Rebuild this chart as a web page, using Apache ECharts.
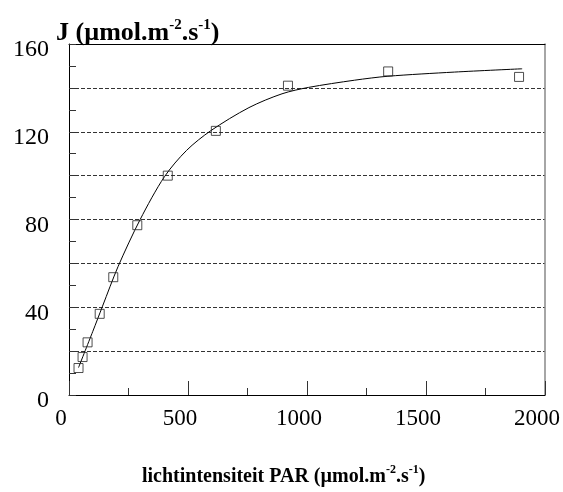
<!DOCTYPE html>
<html>
<head>
<meta charset="utf-8">
<script src="https://cdn.jsdelivr.net/npm/echarts@6/dist/echarts.min.js"></script>
<style>
  html, body { margin: 0; padding: 0; background: #fff; }
  #chart { width: 563px; height: 492px; }
</style>
</head>
<body>
<div id="chart"></div>
<script>
// Measured electron transport rate J against light intensity (PAR)
const parMeasured = [40, 57, 78, 129, 186, 287, 415, 617, 920, 1341, 1891];
const jMeasured = [12.3, 17.3, 24, 37, 53.7, 77.4, 100, 120.4, 141, 147.5, 145];

// Fitted light-response curve, sampled along its length
const parFit = [40, 100, 141, 206, 299, 401, 494, 596, 756, 895, 1006, 1200, 1340, 1619, 1904];
const jFit = [12.5, 29, 40.5, 58.5, 80, 99.5, 111.5, 120.5, 131, 137.3, 140.2, 143.5, 145.3, 147.2, 148.7];

// Axis ranges and tick steps
const xTicks = [0, 500, 1000, 1500, 2000];
const yLabelTicks = [0, 40, 80, 120, 160];

const FONT = '"Liberation Serif", "Times New Roman", serif';

const chart = echarts.init(document.getElementById('chart'), null, { renderer: 'canvas' });

const measured = parMeasured.map((x, i) => [x, jMeasured[i]]);
const fitted = parFit.map((x, i) => [x, jFit[i]]);

chart.setOption({
  animation: false,
  backgroundColor: '#ffffff',
  grid: { left: 69, right: 15, top: 44, bottom: 97 },
  title: [
    {
      text: '{b|J (µmol.m}{s|-2}{b|.s}{s|-1}{b|)}',
      left: 51,
      top: 13,
      textStyle: {
        rich: {
          b: { fontFamily: FONT, fontWeight: 'bold', fontSize: 26, color: '#000', lineHeight: 30 },
          s: { fontFamily: FONT, fontWeight: 'bold', fontSize: 15, color: '#000', verticalAlign: 'top', lineHeight: 16 }
        }
      }
    },
    {
      text: '{b|lichtintensiteit PAR (µmol.m}{s|-2}{b|.s}{s|-1}{b|)}',
      left: 137,
      top: 459,
      textStyle: {
        rich: {
          b: { fontFamily: FONT, fontWeight: 'bold', fontSize: 20, color: '#000', lineHeight: 26 },
          s: { fontFamily: FONT, fontWeight: 'bold', fontSize: 12, color: '#000', verticalAlign: 'top', lineHeight: 13 }
        }
      }
    }
  ],
  xAxis: [
    {
      type: 'value',
      min: xTicks[0],
      max: xTicks[xTicks.length - 1],
      interval: xTicks[1] - xTicks[0],
      axisLine: { show: true, onZero: false, lineStyle: { color: '#000', width: 1 } },
      axisTick: { show: true, inside: true, length: 14, lineStyle: { color: '#333', width: 1 } },
      minorTick: { show: true, splitNumber: 2, length: 7, lineStyle: { color: '#333', width: 1 } },
      splitLine: { show: false },
      axisLabel: {
        fontFamily: FONT, fontSize: 23, color: '#000', margin: 12,
        padding: [0, 16, 0, 0],
        formatter: v => String(v)
      }
    },
    {
      type: 'value',
      position: 'top',
      min: xTicks[0],
      max: xTicks[xTicks.length - 1],
      axisLine: { show: true, onZero: false, lineStyle: { color: '#000', width: 1 } },
      axisTick: { show: false },
      axisLabel: { show: false },
      splitLine: { show: false }
    }
  ],
  yAxis: [
    {
      type: 'value',
      min: yLabelTicks[0],
      max: yLabelTicks[yLabelTicks.length - 1],
      interval: 20,
      axisLine: { show: true, onZero: false, lineStyle: { color: '#000', width: 1 } },
      axisTick: { show: true, inside: true, length: 7, lineStyle: { color: '#333', width: 1 } },
      minorTick: { show: true, splitNumber: 2, length: 7, lineStyle: { color: '#333', width: 1 } },
      splitLine: {
        show: true, showMinLine: false, showMaxLine: false,
        lineStyle: { color: '#333', width: 1, type: [4, 2] }
      },
      axisLabel: {
        color: '#000', margin: 20,
        formatter: v => (yLabelTicks.indexOf(v) >= 0 ? '{n|' + v + '}' : ''),
        rich: {
          n: { fontFamily: FONT, fontSize: 24, color: '#000', padding: [12, 0, 0, 0] }
        }
      }
    },
    {
      type: 'value',
      position: 'right',
      min: yLabelTicks[0],
      max: yLabelTicks[yLabelTicks.length - 1],
      axisLine: { show: true, onZero: false, lineStyle: { color: '#888', width: 1.5 } },
      axisTick: { show: false },
      axisLabel: { show: false },
      splitLine: { show: false }
    }
  ],
  series: [
    {
      type: 'line',
      data: fitted,
      smooth: 0.3,
      showSymbol: false,
      symbol: 'none',
      lineStyle: { color: '#000', width: 1 },
      z: 3
    },
    {
      type: 'scatter',
      data: measured,
      symbol: 'rect',
      symbolSize: 9,
      itemStyle: { color: 'rgba(255,255,255,0)', borderColor: '#222', borderWidth: 1 },
      z: 4
    }
  ]
});
</script>
</body>
</html>
